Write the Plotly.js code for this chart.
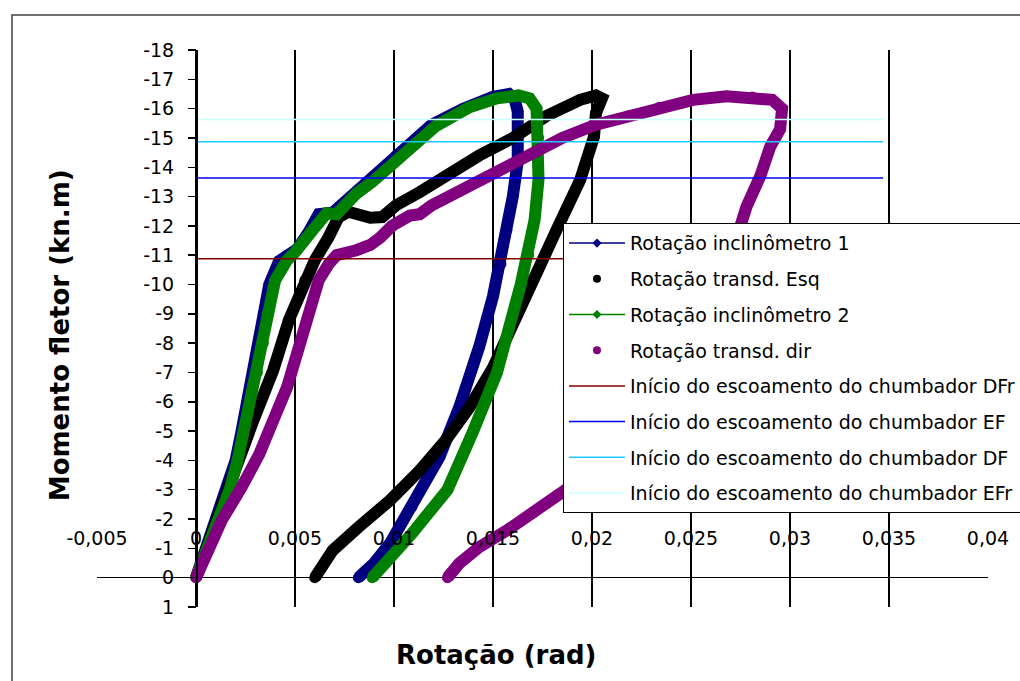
<!DOCTYPE html>
<html>
<head>
<meta charset="utf-8">
<script src="https://cdn.plot.ly/plotly-3.0.1.min.js"></script>
<style>html,body{margin:0;padding:0;background:#fff;}</style>
</head>
<body>
<div id="chart" style="width:1020px;height:681px;"></div>
<script>
// ---- Data ----
const incl1X = [0, 0.0005, 0.0011, 0.0016, 0.0020, 0.0023, 0.0026, 0.0029, 0.0032, 0.0034, 0.0037, 0.0042, 0.0046, 0.0051, 0.0057, 0.0062, 0.0069, 0.0086, 0.0101, 0.0119, 0.0135, 0.0150, 0.0158, 0.0161, 0.01625, 0.01625, 0.0160, 0.0157, 0.0154, 0.0150, 0.0143, 0.0133, 0.0123, 0.0109, 0.0098, 0.0090, 0.0082];
const incl1Y = [0, -1, -2, -3, -4, -5, -6, -6.96, -8, -9, -10.0, -10.8, -11.0, -11.2, -11.8, -12.4, -12.45, -13.5, -14.4, -15.45, -16.0, -16.4, -16.5, -16.3, -15.9, -14.2, -13.0, -11.85, -10.7, -9.6, -7.87, -5.82, -4.12, -2.41, -1.17, -0.5, 0];

const transdEsqX = [0, 0.0007, 0.0013, 0.0021, 0.0029, 0.0039, 0.0047, 0.0055, 0.0060, 0.0067, 0.0072, 0.0077, 0.0082, 0.0088, 0.0094, 0.0101, 0.0113, 0.0126, 0.0143, 0.0160, 0.0177, 0.0194, 0.0202, 0.0205, 0.0202, 0.0201, 0.0194, 0.0182, 0.0170, 0.0160, 0.0150, 0.0138, 0.0126, 0.0113, 0.0098, 0.0082, 0.0069, 0.0060];
const transdEsqY = [0, -1.38, -2.53, -3.9, -5.37, -7.08, -8.8, -10.15, -10.83, -11.62, -12.3, -12.48, -12.4, -12.28, -12.3, -12.7, -13.15, -13.7, -14.4, -15.0, -15.75, -16.3, -16.45, -16.35, -15.85, -15.04, -13.56, -11.85, -10.15, -8.67, -7.17, -5.8, -4.68, -3.66, -2.64, -1.72, -0.93, 0];

const incl2X = [0, 0.0006, 0.0012, 0.0017, 0.0021, 0.0024, 0.0027, 0.0031, 0.0034, 0.0036, 0.0040, 0.0046, 0.0050, 0.0059, 0.0066, 0.0071, 0.0081, 0.0089, 0.0104, 0.0121, 0.0138, 0.0152, 0.0163, 0.01685, 0.0172, 0.0173, 0.0173, 0.0171, 0.0168, 0.0164, 0.0158, 0.0152, 0.0140, 0.0127, 0.0109, 0.0096, 0.0089];
const incl2Y = [0, -1, -2, -3, -4, -5, -6, -7, -8, -9, -10.15, -10.83, -11.1, -11.86, -12.43, -12.4, -13.1, -13.5, -14.4, -15.4, -16.05, -16.35, -16.45, -16.35, -16.0, -15.0, -13.6, -12.2, -11.0, -10.0, -8.5, -7.0, -5.0, -3.0, -1.5, -0.5, 0];

const transdDirX = [0, 0.0005, 0.0013, 0.0023, 0.0032, 0.0039, 0.0046, 0.0051, 0.0056, 0.0062, 0.0067, 0.0071, 0.0081, 0.0088, 0.0093, 0.0099, 0.0108, 0.0113, 0.0119, 0.0135, 0.0152, 0.0169, 0.0185, 0.0202, 0.0218, 0.0234, 0.0251, 0.0268, 0.0281, 0.0291, 0.0296, 0.0295, 0.0290, 0.0285, 0.0278, 0.0268, 0.0255, 0.0240, 0.0222, 0.0203, 0.0184, 0.0170, 0.0157, 0.0143, 0.0133, 0.0127];
const transdDirY = [0, -0.83, -1.96, -3.08, -4.22, -5.36, -6.5, -7.64, -8.8, -10.15, -10.7, -11.0, -11.17, -11.35, -11.6, -12.0, -12.35, -12.4, -12.7, -13.25, -13.85, -14.45, -15.0, -15.45, -15.75, -16.05, -16.3, -16.42, -16.4, -16.3, -16.0, -15.3, -14.7, -13.7, -12.65, -10.5, -8.5, -6.8, -5.0, -3.8, -2.87, -2.19, -1.61, -1.04, -0.49, 0];

const seriesNames = ["Rotação inclinômetro 1", "Rotação transd. Esq", "Rotação inclinômetro 2", "Rotação transd. dir"];
const yieldNames = ["Início do escoamento do chumbador DFr", "Início do escoamento do chumbador EF", "Início do escoamento do chumbador DF", "Início do escoamento do chumbador EFr"];
const yieldValues = [-10.88, -13.63, -14.87, -15.63];
const yieldXRange = [0, 0.0347];

const xTickVals = [-0.005, 0, 0.005, 0.01, 0.015, 0.02, 0.025, 0.03, 0.035, 0.04];
const xTickText = ["-0,005", "0", "0,005", "0,01", "0,015", "0,02", "0,025", "0,03", "0,035", "0,04"];
const yTickVals = [-18, -17, -16, -15, -14, -13, -12, -11, -10, -9, -8, -7, -6, -5, -4, -3, -2, -1, 0, 1];
const yTickText = ["-18", "-17", "-16", "-15", "-14", "-13", "-12", "-11", "-10", "-9", "-8", "-7", "-6", "-5", "-4", "-3", "-2", "-1", "0", "1"];

const xTitle = "Rotação (rad)";
const yTitle = "Momento fletor (kn.m)";

// ---- Styles ----
const seriesColors = ["#000080", "#000000", "#008000", "#800080"];
const seriesIsLine = [true, false, true, false];
const yieldColors = ["#800000", "#0000FF", "#1EC8FF", "#C8FFFF"];
const FONT = "DejaVu Sans, Verdana, sans-serif";

const seriesX = [incl1X, transdEsqX, incl2X, transdDirX];
const seriesY = [incl1Y, transdEsqY, incl2Y, transdDirY];

const traces = [];
seriesX.forEach((xs, i) => {
  const g = "g" + i;
  // thick band (the dense data markers in the original)
  traces.push({
    x: xs, y: seriesY[i], type: "scatter", mode: "lines+markers",
    line: {color: seriesColors[i], width: 12},
    marker: {color: seriesColors[i], size: 11, symbol: "circle"},
    showlegend: false, legendgroup: g, hoverinfo: "skip", cliponaxis: false
  });
  // thin overlay that carries the legend symbol
  traces.push(seriesIsLine[i] ? {
    x: xs, y: seriesY[i], type: "scatter", mode: "lines+markers", name: seriesNames[i],
    line: {color: seriesColors[i], width: 1.5},
    marker: {color: seriesColors[i], size: 7, symbol: "diamond"},
    legendgroup: g, legendrank: i + 1, cliponaxis: false
  } : {
    x: xs, y: seriesY[i], type: "scatter", mode: "markers", name: seriesNames[i],
    marker: {color: seriesColors[i], size: 8, symbol: "circle"},
    legendgroup: g, legendrank: i + 1, cliponaxis: false
  });
});
yieldValues.forEach((v, j) => {
  traces.push({
    x: yieldXRange, y: [v, v], type: "scatter", mode: "lines", name: yieldNames[j],
    line: {color: yieldColors[j], width: 1.5},
    legendgroup: "y" + j, legendrank: 5 + j
  });
});

const layout = {
  width: 1020, height: 681,
  margin: {l: 97, r: 32, t: 50, b: 74, autoexpand: false},
  paper_bgcolor: "#ffffff", plot_bgcolor: "#ffffff",
  font: {family: FONT, color: "#000"},
  showlegend: true,
  xaxis: {
    range: [-0.005, 0.04], tickmode: "array", tickvals: xTickVals, ticktext: xTickText,
    showgrid: true, gridcolor: "#000", gridwidth: 1.5, zeroline: false, showline: false,
    ticks: "", anchor: "free", position: 0.148,
    tickfont: {family: FONT, size: 19, color: "#000"}, fixedrange: true
  },
  yaxis: {
    range: [1, -18], tickmode: "array", tickvals: yTickVals, ticktext: yTickText,
    ticks: "outside", ticklen: 8, tickwidth: 1.5, tickcolor: "#000",
    showline: true, linecolor: "#000", linewidth: 1.5,
    showgrid: false, zeroline: true, zerolinecolor: "#000", zerolinewidth: 1.5,
    anchor: "free", position: 1 / 9, ticklabelstandoff: 10,
    tickfont: {family: FONT, size: 19, color: "#000"}, fixedrange: true
  },
  legend: {
    x: 0.523, y: 0.689, xanchor: "left", yanchor: "top",
    bgcolor: "#ffffff", bordercolor: "#000", borderwidth: 1,
    font: {family: FONT, size: 19, color: "#000"},
    traceorder: "grouped", tracegroupgap: 8, itemwidth: 56
  },
  shapes: [{
    type: "rect", xref: "paper", yref: "paper",
    x0: -0.0954, x1: 1.2, y0: -0.3, y1: 1.0628,
    line: {color: "#404040", width: 1.5}, fillcolor: "rgba(0,0,0,0)", layer: "below"
  }],
  annotations: [
    {text: yTitle, xref: "paper", yref: "paper", x: -0.0415, y: 0.488, textangle: -90,
     showarrow: false, xanchor: "center", yanchor: "middle",
     font: {family: FONT, size: 26, color: "#000", weight: "bold"}},
    {text: xTitle, xref: "paper", yref: "paper", x: 0.4478, y: -0.0862,
     showarrow: false, xanchor: "center", yanchor: "middle",
     font: {family: FONT, size: 26, color: "#000", weight: "bold"}}
  ]
};

Plotly.newPlot("chart", traces, layout, {displayModeBar: false, staticPlot: true});
</script>
</body>
</html>
